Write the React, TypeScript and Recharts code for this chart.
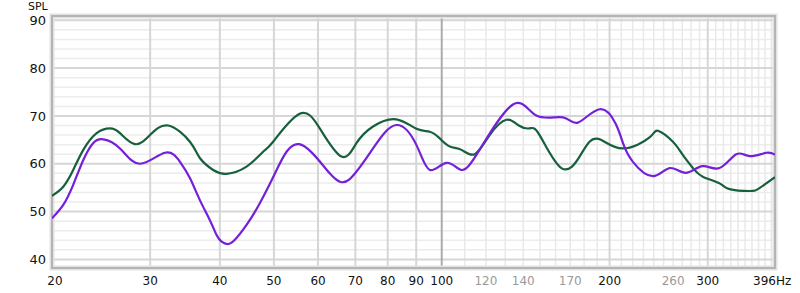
import React from 'react';
import { LineChart, Line, XAxis, YAxis, CartesianGrid, ReferenceArea } from 'recharts';

// frequency (Hz) / SPL (dB)
const greenFreq = [20, 20.95, 21.83, 22.76, 24.05, 25.41, 26.48, 28.17, 29.97, 32.32, 35.35, 36.83, 38.91, 41.13, 44.66, 47.82, 49.84, 55.5, 60.43, 66.1, 70.3, 75.3, 82.9, 90.1, 95.2, 99.2, 103.4, 108.5, 114.6, 121.9, 130.6, 137.5, 143.8, 149.8, 163.9, 176.7, 184.1, 193, 211.2, 235.9, 244.2, 259.8, 270.8, 282.2, 294, 314.9, 328.2, 356.5, 371.4, 396];
const greenSpl = [53.3, 55.2, 58.7, 62.9, 66.4, 67.4, 66.4, 64.1, 66.0, 68.0, 64.6, 61.2, 58.7, 57.9, 59.4, 62.5, 64.6, 70.4, 67.4, 61.5, 64.3, 67.8, 69.3, 67.3, 66.7, 65.3, 63.6, 62.9, 62.0, 66.0, 69.2, 68.0, 67.4, 66.0, 59.1, 61.5, 64.6, 65.0, 63.2, 65.5, 66.9, 64.6, 61.8, 59.1, 57.3, 55.9, 54.7, 54.3, 54.9, 57.2];

const purpleFreq = [20, 20.95, 21.83, 22.76, 23.7, 24.72, 26.48, 28.76, 31.88, 33.93, 35.35, 36.83, 38.39, 39.46, 40.29, 41.3, 42.56, 44.66, 47.15, 50.57, 55.5, 62.96, 68.4, 75.3, 82.9, 90.1, 95.2, 102, 108.5, 116.9, 134.2, 147.8, 165, 175.5, 191.9, 205, 211.4, 220.2, 239.2, 256.3, 273.8, 293.5, 314.9, 337.4, 356.5, 381.9, 396];
const purpleSpl = [48.6, 51.4, 55.6, 60.8, 64.3, 65.1, 63.2, 60.0, 62.3, 60.4, 57.0, 52.4, 48.2, 45.1, 43.7, 43.2, 44.1, 47.2, 51.7, 58.7, 64.1, 58.0, 56.8, 63.2, 68.1, 63.9, 58.7, 60.2, 58.7, 62.9, 72.4, 70.1, 69.7, 68.6, 71.4, 68.4, 64.3, 60.4, 57.4, 59.1, 58.1, 59.5, 59.1, 62.0, 61.6, 62.3, 61.9];

const xTicks = [20, 30, 40, 50, 60, 70, 80, 90, 100, 120, 140, 170, 200, 260, 300, 396];
const greyTicks = [120, 140, 170, 260];
const yTicks = [40, 50, 60, 70, 80, 90];

const yMinor = [42, 44, 46, 48, 52, 54, 56, 58, 62, 64, 66, 68, 72, 74, 76, 78, 82, 84, 86, 88, 90];
const xMajor = [20, 30, 40, 50, 60, 70, 80, 90, 200, 300];
const xMinor = [110, 120, 130, 140, 150, 160, 170, 180, 190, 210, 220, 230, 240, 250, 260, 270, 280, 290, 310, 320, 330, 340, 350, 360, 370, 380, 390];

const greenData = greenFreq.map((f, i) => ({ f, v: greenSpl[i] }));
const purpleData = purpleFreq.map((f, i) => ({ f, v: purpleSpl[i] }));

const FONT = '"DejaVu Sans", Verdana, sans-serif';

function FreqTick(props: any) {
  const { x, y, payload } = props;
  const val = payload.value;
  const fill = greyTicks.includes(val) ? '#9a9a9a' : '#111';
  let label = String(val);
  let anchor: 'middle' | 'start' = 'middle';
  let tx = x;
  if (val === 20) tx = x + 3;
  if (val === 396) {
    label = '396Hz';
    anchor = 'start';
    tx = x - 22;
  }
  return (
    <text x={tx} y={y} dy={17} textAnchor={anchor} fill={fill} fontSize={12} fontFamily={FONT}>
      {label}
    </text>
  );
}

export default function App() {
  return (
    <div style={{ position: 'absolute', left: 0, top: 0, width: 800, height: 293, background: '#fff' }}>
      <LineChart width={800} height={293} margin={{ top: 16, right: 25, bottom: 0, left: 0 }}>
        <CartesianGrid horizontalValues={yMinor} vertical={false} stroke="#ececec" strokeWidth={1.5} />
        <CartesianGrid verticalValues={xMinor} horizontal={false} stroke="#e9e9e9" strokeWidth={1.5} />
        <CartesianGrid horizontalValues={yTicks} vertical={false} stroke="#d6d6d6" strokeWidth={2} />
        <CartesianGrid verticalValues={xMajor} horizontal={false} stroke="#d6d6d6" strokeWidth={2} />
        <CartesianGrid verticalValues={[100]} horizontal={false} stroke="#ababab" strokeWidth={2} />
        <XAxis
          dataKey="f"
          type="number"
          scale="log"
          domain={[20, 396]}
          allowDataOverflow
          ticks={xTicks}
          interval={0}
          axisLine={false}
          tickLine={false}
          tickSize={0}
          tickMargin={0}
          height={25}
          tick={<FreqTick />}
        />
        <YAxis
          type="number"
          domain={[38.2, 90.9]}
          allowDataOverflow
          ticks={yTicks}
          interval={0}
          axisLine={false}
          tickLine={false}
          tickSize={4}
          tickMargin={2}
          width={52}
          tick={{ fill: '#111', fontSize: 13, fontFamily: FONT }}
          label={{ value: 'SPL', position: 'insideTopLeft', offset: 0, dx: 28, dy: -14, fill: '#111', fontSize: 11, fontFamily: FONT }}
        />
        <Line
          data={greenData}
          dataKey="v"
          type="natural"
          stroke="#17603d"
          strokeWidth={2.2}
          dot={false}
          isAnimationActive={false}
        />
        <Line
          data={purpleData}
          dataKey="v"
          type="natural"
          stroke="#7420d8"
          strokeWidth={2.2}
          dot={false}
          isAnimationActive={false}
        />
        <ReferenceArea x1={20} x2={396} y1={38.2} y2={90.9} fill="none" stroke="#e2e2e2" strokeWidth={5} ifOverflow="visible" />
        <ReferenceArea x1={20} x2={396} y1={38.2} y2={90.9} fill="none" stroke="#b4b4b4" strokeWidth={2} ifOverflow="visible" />
      </LineChart>
    </div>
  );
}
